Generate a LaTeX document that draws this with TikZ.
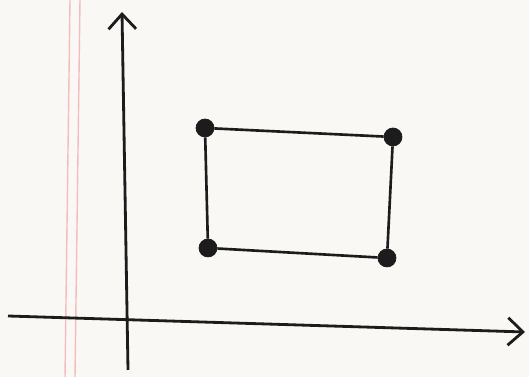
\documentclass[tikz,border=0pt]{standalone}
\usepackage{xcolor}
\usetikzlibrary{arrows.meta}
\definecolor{paper}{RGB}{250,248,245}
\definecolor{ink}{RGB}{28,28,28}
\definecolor{margin}{RGB}{238,150,150}

\begin{document}
\begin{tikzpicture}[x=0.02cm,y=-0.02cm,
  dot/.style={circle,fill=ink,draw=ink,inner sep=0pt,minimum size=0.36cm},
  side/.style={draw=ink,line width=1.5pt},
  axis/.style={draw=ink,line width=1.6pt,
               -{Straight Barb[length=3mm,width=5.5mm,line width=1.6pt]}},
  rule/.style={draw=margin,line width=0.8pt,opacity=0.6}]
\fill[paper] (0,0) rectangle (529,377);
\useasboundingbox (0,0) rectangle (529,377);
% margin lines of the paper
\draw[rule] (70,0) -- (65,377);
\draw[rule] (80,0) -- (75,377);
% axes
\coordinate (xl) at (8,316);
\coordinate (xr) at (525,332);
\coordinate (yb) at (128,370);
\coordinate (yt) at (122,12);
\draw[axis] (xl) -- (xr);
\draw[axis] (yb) -- (yt);
% corners of the rectangle
\node[dot] (tl) at (205,128) {};
\node[dot] (tr) at (393,137) {};
\node[dot] (bl) at (208,248) {};
\node[dot] (br) at (387,258) {};
\draw[side] (tl) -- (tr);
\draw[side] (tr) -- (br);
\draw[side] (br) -- (bl);
\draw[side] (bl) -- (tl);
\end{tikzpicture}
\end{document}
